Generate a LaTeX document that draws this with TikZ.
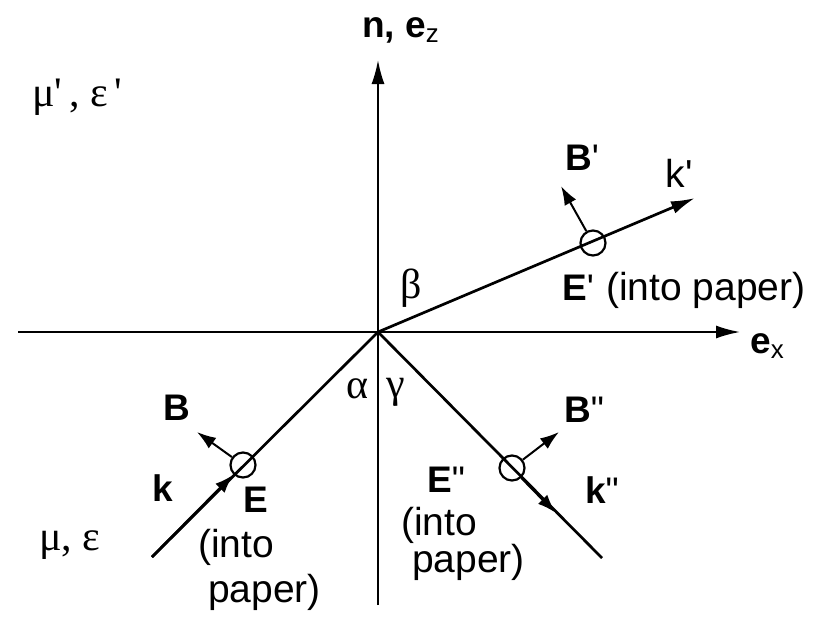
\documentclass[tikz,border=0pt]{standalone}
\usepackage{fontspec}
\setmainfont{Liberation Sans}
\newfontfamily\grk{Liberation Serif}
\usetikzlibrary{arrows.meta,positioning}

\tikzset{
  lbl/.style={font=\fontsize{39}{42}\selectfont, inner sep=0pt},
  blbl/.style={font=\fontsize{37}{40}\selectfont\bfseries, inner sep=0pt},
  glbl/.style={font=\fontsize{42}{46}\selectfont\grk, inner sep=0pt},
  axis/.style={line width=1.8pt, -{Latex[length=24pt,width=13pt]}},
  ray/.style={line width=2.7pt},
  fieldarrow/.style={line width=2pt, -{Latex[length=19pt,width=13pt]}},
  Ecirc/.style={circle, draw, line width=2.2pt, minimum size=25pt, inner sep=0pt},
}
\newcommand{\pr}{\textmd{\textquotesingle}}
\newcommand{\ppr}{\textmd{\textquotedbl}}
\newcommand{\subm}[1]{\textsubscript{\mdseries #1}}

\begin{document}
\begin{tikzpicture}[x=1pt,y=-1pt]
\useasboundingbox (0,0) rectangle (825,627);
% axes
\coordinate (O) at (378,332);
\coordinate (xl) at (18,332);
\coordinate (xr) at (740,332);
\coordinate (zb) at (378,605);
\coordinate (zt) at (378,60);
\draw[axis] (xl) -- (xr);
\draw[axis] (zb) -- (zt);
\node[blbl, anchor=west] (nez) at (362,30) {n, e\subm{z}};
\node[blbl, anchor=west] (ex) at (750,346) {e\subm{x}};

% media
\node[glbl, anchor=west] (med1) at (32,97) {μ\pr\,,\ ε\,\pr};
\node[glbl, anchor=west] (med0) at (39,545) {μ,\ ε};

% incident wave
\coordinate (kin) at (152,557);
\node[Ecirc] (cE) at (243,465) {};
\coordinate (Btip) at (197,432);
\draw[ray] (kin) -- (O);
\draw[ray, -{Latex[length=19pt,width=13pt]}] (kin) -- (cE);
\draw[fieldarrow] (cE) -- (Btip);
\node[blbl] (lB) at (177,408) {B};
\node[blbl] (lk) at (163,488) {k};
\node[blbl] (lE) at (256,500) {E};
\node[lbl, font=\fontsize{39}{45}\selectfont, align=left, anchor=west] (lEa) at (198,570) {(into\\\hspace*{10pt}paper)};

% refracted wave
\coordinate (kt) at (695,198);
\node[Ecirc] (cEt) at (593,243) {};
\coordinate (Bttip) at (561,186);
\draw[ray, -{Latex[length=24pt,width=13pt]}] (O) -- (kt);
\draw[fieldarrow] (cEt) -- (Bttip);
\node[blbl] (lBt) at (582,158) {B\pr};
\node[lbl] (lkt) at (679,173) {k\pr};
\node[blbl] (lEt) at (578,288) {E\pr};
\node[lbl, anchor=west] (lEtb) at (606,290) {(into paper)};

% reflected wave
\coordinate (kr) at (602,558);
\coordinate (krtip) at (556,513);
\node[Ecirc] (cEr) at (512,468) {};
\coordinate (Brtip) at (559,432);
\draw[ray] (O) -- (kr);
\draw[ray, -{Latex[length=19pt,width=13pt]}] (cEr) -- (krtip);
\draw[fieldarrow] (cEr) -- (Brtip);
\node[blbl] (lBr) at (584,410) {B\ppr};
\node[blbl] (lkr) at (602,490) {k\ppr};
\node[blbl] (lEr) at (446,480) {E\ppr};
\node[lbl, font=\fontsize{39}{34}\selectfont, align=left, anchor=west] (lEr2) at (401,544) {(into\\\hspace*{11pt}paper)};

% angles
\node[glbl] (alpha) at (357,389) {α};
\node[glbl] (gamma) at (396,392) {γ};
\node[glbl] (beta) at (411,288) {β};
\end{tikzpicture}
\end{document}
